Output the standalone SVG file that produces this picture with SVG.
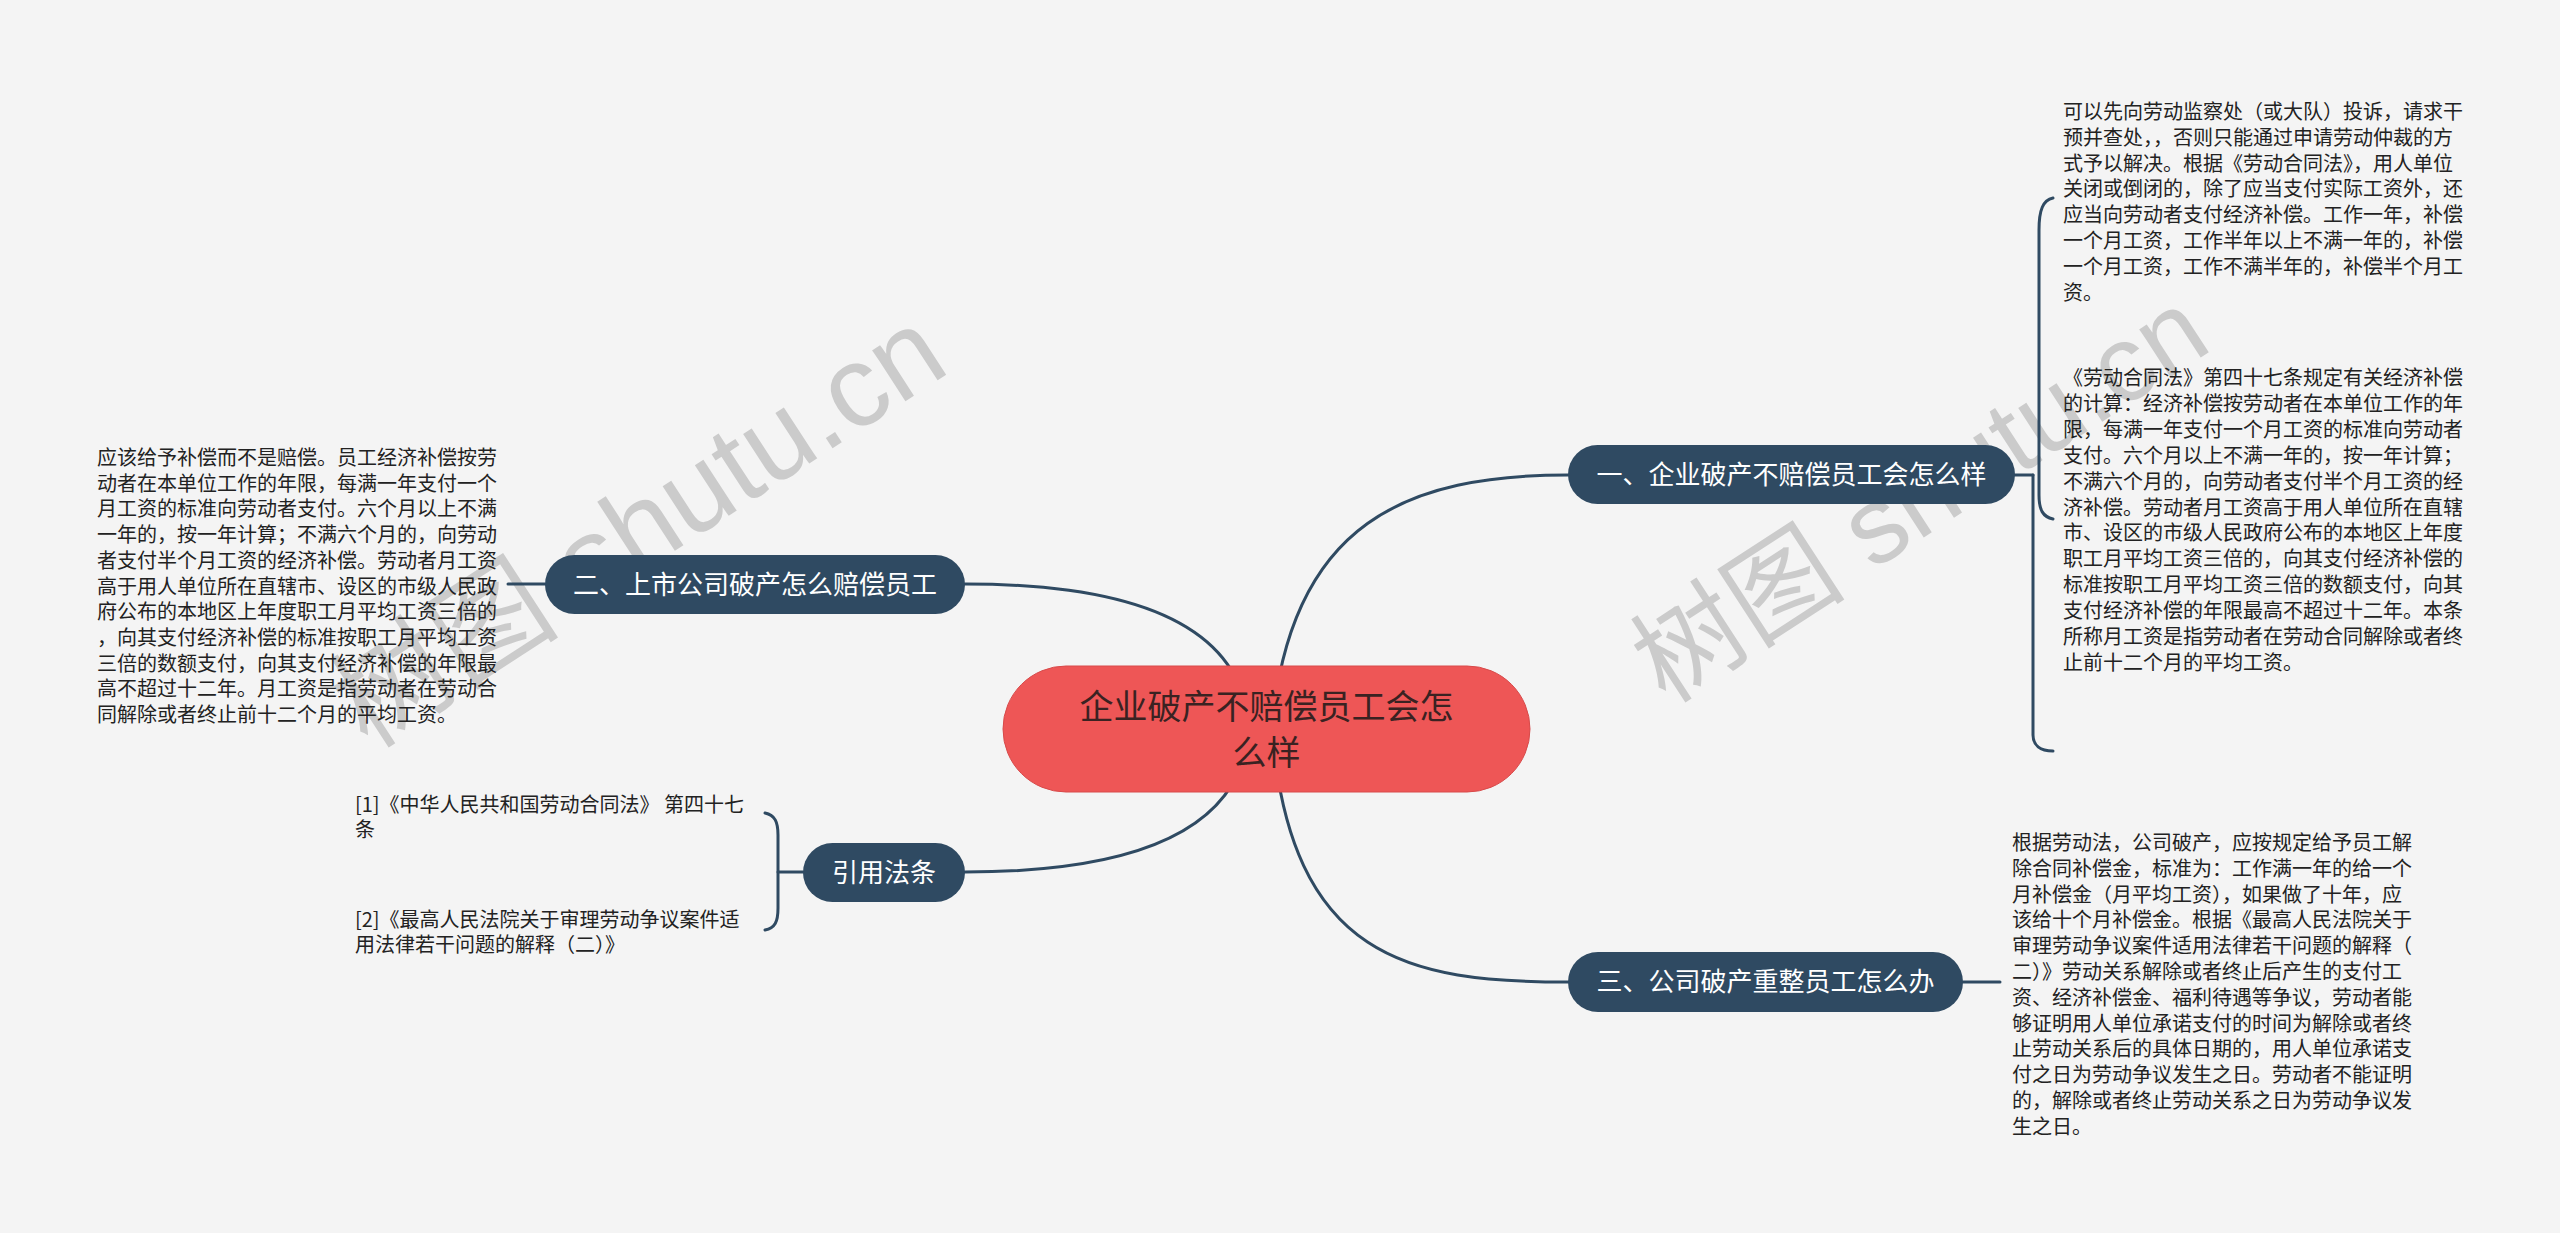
<svg xmlns="http://www.w3.org/2000/svg" width="2560" height="1233" viewBox="0 0 2560 1233">
<style>
.bg{fill:#f4f4f4}
.wm{font-family:"Liberation Sans","Noto Sans CJK SC",sans-serif;fill:#9a9a9a;opacity:0.45}
.conn{fill:none;stroke:#2f4a62;stroke-width:3;stroke-linecap:round}
.main{fill:#ee5656;stroke:#d84a4a;stroke-width:1}
.sub{fill:#2f4a62}
.ct{font-family:"Noto Sans CJK SC","Liberation Sans",sans-serif;font-size:34px;fill:#3a2222;text-anchor:middle}
.st{font-family:"Noto Sans CJK SC","Liberation Sans",sans-serif;font-size:26px;fill:#ffffff;text-anchor:middle}
.tx{font-family:"Noto Sans CJK SC","Liberation Sans",sans-serif;font-size:20px;fill:#222222}
</style>
<rect class="bg" x="0" y="0" width="2560" height="1233"/>
<g id="watermarks">
<text class="wm" font-size="115" x="368" y="750" transform="rotate(-33 368 750)">树图 shutu.cn</text>
<text class="wm" font-size="108" x="1666" y="705" transform="rotate(-33 1666 705)">树图 shutu.cn</text>
</g>
<g id="connectors">
<path class="conn" d="M1272,728 C1290,520 1410,475 1568,475"/>
<path class="conn" d="M1249,728 Q1240,584 965,584"/>
<path class="conn" d="M1249,728 Q1240,872 965,872"/>
<path class="conn" d="M1272,728 C1290,960 1410,982 1568,982"/>
<path class="conn" d="M2015,475 L2033,475"/>
<path class="conn" d="M2053,198 C2043,200 2039,210 2039,230 L2039,495 C2039,510 2043,517 2053,519"/>
<path class="conn" d="M2033,475 L2033,735 C2033,745 2040,751 2053,751"/>
<path class="conn" d="M508,584 L545,584"/>
<path class="conn" d="M1963,982 L2000,982"/>
<path class="conn" d="M778,872 L803,872"/>
<path class="conn" d="M765,813 C775,815 778,822 778,835 L778,908 C778,922 775,928 765,930"/>
</g>
<g id="center">
<rect class="main" x="1003" y="666" width="527" height="126" rx="63"/>
<text class="ct" x="1266.5" y="719">企业破产不赔偿员工会怎</text>
<text class="ct" x="1266.5" y="765">么样</text>
</g>
<g id="node1">
<rect class="sub" x="1568" y="445" width="447" height="59" rx="29.5"/>
<text class="st" x="1791.5" y="484">一、企业破产不赔偿员工会怎么样</text>
</g>
<g id="node2">
<rect class="sub" x="545" y="555" width="420" height="59" rx="29.5"/>
<text class="st" x="755" y="594">二、上市公司破产怎么赔偿员工</text>
</g>
<g id="node3">
<rect class="sub" x="1568" y="952" width="395" height="60" rx="30"/>
<text class="st" x="1765.5" y="991">三、公司破产重整员工怎么办</text>
</g>
<g id="node4">
<rect class="sub" x="803" y="843" width="162" height="59" rx="29.5"/>
<text class="st" x="884" y="882">引用法条</text>
</g>
<g id="leaf1">
<text class="tx" x="2063" y="119">
<tspan x="2063" dy="0">可以先向劳动监察处（或大队）投诉，请求干</tspan>
<tspan x="2063" dy="25.8">预并查处，，否则只能通过申请劳动仲裁的方</tspan>
<tspan x="2063" dy="25.8">式予以解决。根据《劳动合同法》，用人单位</tspan>
<tspan x="2063" dy="25.8">关闭或倒闭的，除了应当支付实际工资外，还</tspan>
<tspan x="2063" dy="25.8">应当向劳动者支付经济补偿。工作一年，补偿</tspan>
<tspan x="2063" dy="25.8">一个月工资，工作半年以上不满一年的，补偿</tspan>
<tspan x="2063" dy="25.8">一个月工资，工作不满半年的，补偿半个月工</tspan>
<tspan x="2063" dy="25.8">资。</tspan>
</text>
</g>
<g id="leaf2">
<text class="tx" x="2063" y="385">
<tspan x="2063" dy="0">《劳动合同法》第四十七条规定有关经济补偿</tspan>
<tspan x="2063" dy="25.9">的计算：经济补偿按劳动者在本单位工作的年</tspan>
<tspan x="2063" dy="25.9">限，每满一年支付一个月工资的标准向劳动者</tspan>
<tspan x="2063" dy="25.9">支付。六个月以上不满一年的，按一年计算；</tspan>
<tspan x="2063" dy="25.9">不满六个月的，向劳动者支付半个月工资的经</tspan>
<tspan x="2063" dy="25.9">济补偿。劳动者月工资高于用人单位所在直辖</tspan>
<tspan x="2063" dy="25.9">市、设区的市级人民政府公布的本地区上年度</tspan>
<tspan x="2063" dy="25.9">职工月平均工资三倍的，向其支付经济补偿的</tspan>
<tspan x="2063" dy="25.9">标准按职工月平均工资三倍的数额支付，向其</tspan>
<tspan x="2063" dy="25.9">支付经济补偿的年限最高不超过十二年。本条</tspan>
<tspan x="2063" dy="25.9">所称月工资是指劳动者在劳动合同解除或者终</tspan>
<tspan x="2063" dy="25.9">止前十二个月的平均工资。</tspan>
</text>
</g>
<g id="leaf3">
<text class="tx" x="2012" y="850">
<tspan x="2012" dy="0">根据劳动法，公司破产，应按规定给予员工解</tspan>
<tspan x="2012" dy="25.8">除合同补偿金，标准为：工作满一年的给一个</tspan>
<tspan x="2012" dy="25.8">月补偿金（月平均工资），如果做了十年，应</tspan>
<tspan x="2012" dy="25.8">该给十个月补偿金。根据《最高人民法院关于</tspan>
<tspan x="2012" dy="25.8">审理劳动争议案件适用法律若干问题的解释（</tspan>
<tspan x="2012" dy="25.8">二）》劳动关系解除或者终止后产生的支付工</tspan>
<tspan x="2012" dy="25.8">资、经济补偿金、福利待遇等争议，劳动者能</tspan>
<tspan x="2012" dy="25.8">够证明用人单位承诺支付的时间为解除或者终</tspan>
<tspan x="2012" dy="25.8">止劳动关系后的具体日期的，用人单位承诺支</tspan>
<tspan x="2012" dy="25.8">付之日为劳动争议发生之日。劳动者不能证明</tspan>
<tspan x="2012" dy="25.8">的，解除或者终止劳动关系之日为劳动争议发</tspan>
<tspan x="2012" dy="25.8">生之日。</tspan>
</text>
</g>
<g id="leaf4">
<text class="tx" x="97" y="465">
<tspan x="97" dy="0">应该给予补偿而不是赔偿。员工经济补偿按劳</tspan>
<tspan x="97" dy="25.7">动者在本单位工作的年限，每满一年支付一个</tspan>
<tspan x="97" dy="25.7">月工资的标准向劳动者支付。六个月以上不满</tspan>
<tspan x="97" dy="25.7">一年的，按一年计算；不满六个月的，向劳动</tspan>
<tspan x="97" dy="25.7">者支付半个月工资的经济补偿。劳动者月工资</tspan>
<tspan x="97" dy="25.7">高于用人单位所在直辖市、设区的市级人民政</tspan>
<tspan x="97" dy="25.7">府公布的本地区上年度职工月平均工资三倍的</tspan>
<tspan x="97" dy="25.7">，向其支付经济补偿的标准按职工月平均工资</tspan>
<tspan x="97" dy="25.7">三倍的数额支付，向其支付经济补偿的年限最</tspan>
<tspan x="97" dy="25.7">高不超过十二年。月工资是指劳动者在劳动合</tspan>
<tspan x="97" dy="25.7">同解除或者终止前十二个月的平均工资。</tspan>
</text>
</g>
<g id="cite1">
<text class="tx" x="355" y="812">
<tspan x="355" dy="0">[1]《中华人民共和国劳动合同法》 第四十七</tspan>
<tspan x="355" dy="25">条</tspan>
</text>
</g>
<g id="cite2">
<text class="tx" x="355" y="927">
<tspan x="355" dy="0">[2]《最高人民法院关于审理劳动争议案件适</tspan>
<tspan x="355" dy="25">用法律若干问题的解释（二）》</tspan>
</text>
</g>
</svg>
